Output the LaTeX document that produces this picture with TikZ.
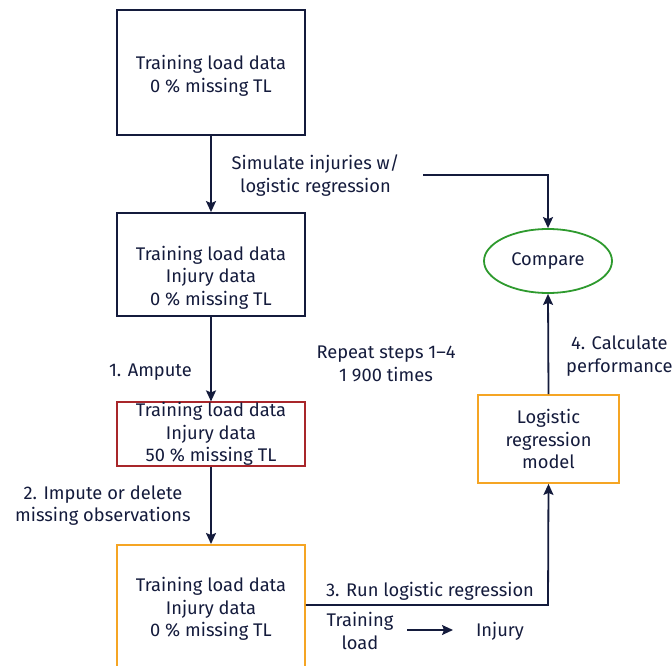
\documentclass[tikz,border=0pt]{standalone}
\usepackage{fontspec}
\setmainfont{Fira Sans}
\usetikzlibrary{arrows.meta,shapes.geometric}
\definecolor{navy}{HTML}{141B3C}
\definecolor{boxred}{HTML}{A8262A}
\definecolor{boxorange}{HTML}{F5A524}
\definecolor{boxgreen}{HTML}{2E9A2E}
\begin{document}
\begin{tikzpicture}[x=1pt,y=-1pt,
  font=\fontsize{18.3}{22.6}\selectfont, text=navy,
  databox/.style={draw=#1, line width=1.8pt, minimum width=188pt, align=center, inner sep=0pt},
  flow/.style={draw=navy, line width=1.8pt, -{Stealth[length=11pt,width=10pt,inset=2pt]}},
  lbl/.style={align=center, inner sep=0pt}]
\useasboundingbox (0,0) rectangle (672,666);
% data boxes on the left
\node[databox=navy, minimum height=125pt] (raw) at (211,72.5) {};
\node[lbl] (rawtext) at (211,76) {Training load data\\0 \% missing TL};
\node[databox=navy, minimum height=103pt] (sim) at (211,264.5) {};
\node[lbl] (simtext) at (211,277.5) {Training load data\\Injury data\\0 \% missing TL};
\node[databox=boxred, minimum height=62pt] (amp) at (211,434) {Training load data\\Injury data\\50 \% missing TL};
\node[databox=boxorange, minimum height=150pt, anchor=north] (imp) at (211,544) {};
\node[lbl] (imptext) at (211,609) {Training load data\\Injury data\\0 \% missing TL};
% model and comparison on the right
\node[databox=boxorange, minimum width=141pt, minimum height=88pt] (model) at (548.5,439) {Logistic\\regression\\model};
\node[draw=boxgreen, line width=1.8pt, ellipse, minimum width=128pt, minimum height=64pt, inner sep=0pt] (cmp) at (548,261) {Compare};
% connectors
\draw[flow] (raw.south) -- (sim.north);
\draw[flow] (sim.south) -- (amp.north);
\draw[flow] (amp.south) -- (imp.north);
\coordinate (runturn) at (548,605);
\draw[flow] (imp.east |- runturn) -- (runturn) -- (model.south);
\draw[flow] (model.north) -- (cmp.south);
\coordinate (simstart) at (423,175);
\coordinate (simturn) at (548,175);
\draw[flow] (simstart) -- (simturn) -- (cmp.north);
% labels
\node[lbl] (lsim) at (315.5,175.5) {Simulate injuries w/\\logistic regression};
\node[lbl, anchor=east] (lamp) at (192,372) {1. Ampute};
\node[lbl, anchor=west] (limp) at (15,505.5) {2. Impute or delete\\missing observations};
\node[lbl] (lrep) at (386,364) {Repeat steps 1–4\\1 900 times};
\node[lbl, anchor=west] (lcalc) at (566,356) {4. Calculate\\performance};
\node[lbl] (lrun) at (430,591) {3. Run logistic regression};
\node[lbl] (ltl) at (360,631) {Training\\load};
\node[lbl] (linj) at (500,631) {Injury};
\draw[flow, line width=1.5pt] (407,630) -- (453,630);
\end{tikzpicture}
\end{document}
